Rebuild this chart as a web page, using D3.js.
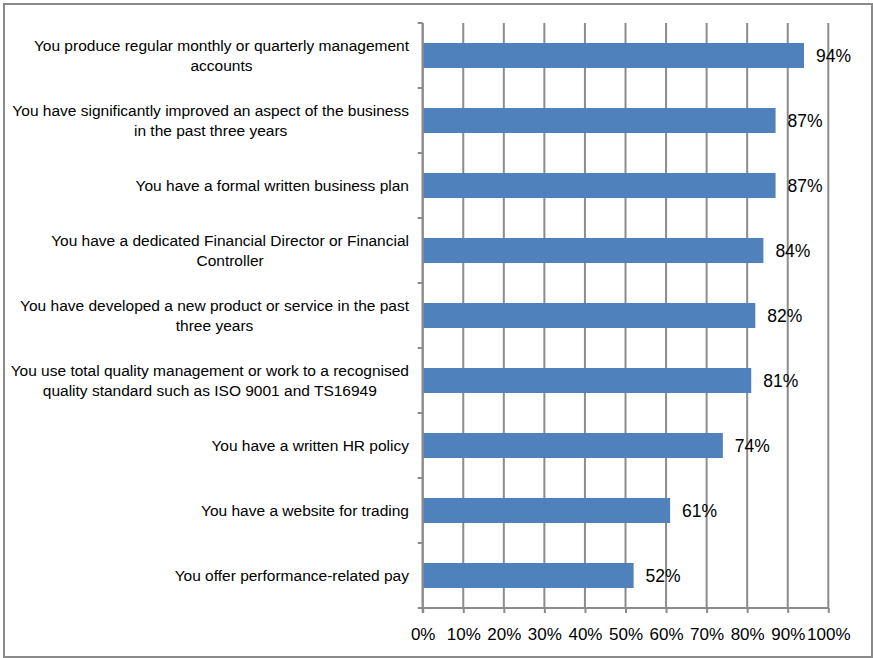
<!DOCTYPE html>
<html>
<head>
<meta charset="utf-8">
<script src="https://cdn.jsdelivr.net/npm/d3@7"></script>
<style>
  html, body { margin: 0; padding: 0; background: #fff; }
  svg { display: block; }
</style>
</head>
<body>
<svg id="chart" width="873" height="658"></svg>
<script>
// Survey statements (each entry is the list of wrapped lines) and the share agreeing
const categories = [
  ["You produce regular monthly or quarterly management", "accounts"],
  ["You have significantly improved an aspect of the business", "in the past three years"],
  ["You have a formal written business plan"],
  ["You have a dedicated Financial Director or Financial", "Controller"],
  ["You have developed a new product or service in the past", "three years"],
  ["You use total quality management or work to a recognised", "quality standard such as ISO 9001 and TS16949"],
  ["You have a written HR policy"],
  ["You have a website for trading"],
  ["You offer performance-related pay"]
];
const values = [94, 87, 87, 84, 82, 81, 74, 61, 52];
const tickValues = [0, 10, 20, 30, 40, 50, 60, 70, 80, 90, 100];

const svg = d3.select("#chart");
const W = 873, H = 658;
const margin = { left: 422.7, right: W - 828.3, top: 23, bottom: H - 608 };

const labelFont = "'Liberation Sans Narrow', 'Arial Narrow', 'Liberation Sans', sans-serif";
const numFont = "'Liberation Sans', Arial, sans-serif";
const gridColor = "#8c8c8c";

// outer frame
svg.append("rect")
  .attr("x", 4).attr("y", 4).attr("width", 868).attr("height", 653)
  .attr("fill", "#fff").attr("stroke", "#8a8a8a").attr("stroke-width", 2);

const x = d3.scaleLinear().domain([0, 100]).range([margin.left, W - margin.right]);
const y = d3.scaleBand().domain(d3.range(categories.length))
  .range([margin.top, H - margin.bottom]).paddingInner(0.615).paddingOuter(0.3075);
const yOuter = d3.scaleBand().domain(d3.range(categories.length))
  .range([margin.top, H - margin.bottom]);

// vertical gridlines
svg.append("g").selectAll("line").data(tickValues).join("line")
  .attr("x1", d => x(d)).attr("x2", d => x(d))
  .attr("y1", margin.top).attr("y2", H - margin.bottom)
  .attr("stroke", gridColor).attr("stroke-width", 2);

// bars
svg.append("g").selectAll("rect").data(values).join("rect")
  .attr("x", x(0))
  .attr("y", (d, i) => y(i))
  .attr("width", d => x(d) - x(0))
  .attr("height", y.bandwidth())
  .attr("fill", "#4f81bd");

// x axis
const xAxis = d3.axisBottom(x).tickValues(tickValues).tickFormat(d => d + "%").tickSize(5).tickPadding(15);
const gx = svg.append("g").attr("transform", `translate(0,${H - margin.bottom})`).call(xAxis);
gx.select(".domain").attr("stroke", gridColor).attr("stroke-width", 2).attr("d", `M${x(0)},0H${x(100)}`);
gx.selectAll(".tick line").attr("stroke", gridColor).attr("stroke-width", 2);
gx.selectAll(".tick text").attr("font-family", numFont).attr("font-size", 17).attr("fill", "#000");

// y axis: category boundary ticks on the left of the axis line
const boundaries = d3.range(categories.length + 1).map(i => margin.top + i * yOuter.step());
const gy = svg.append("g");
gy.append("line")
  .attr("x1", x(0)).attr("x2", x(0))
  .attr("y1", margin.top).attr("y2", H - margin.bottom + 5)
  .attr("stroke", gridColor).attr("stroke-width", 2);
gy.selectAll("line.tk").data(boundaries).join("line").attr("class", "tk")
  .attr("x1", x(0) - 5).attr("x2", x(0))
  .attr("y1", d => d).attr("y2", d => d)
  .attr("stroke", gridColor).attr("stroke-width", 2);

// category labels: block right-aligned near the axis, lines centered within the block
const lineH = 20;
const labelRight = 409;
const lg = svg.append("g");
categories.forEach((lines, i) => {
  const cy = yOuter(i) + yOuter.bandwidth() / 2;
  const g = lg.append("g");
  const texts = lines.map((s, j) => g.append("text")
    .attr("font-family", labelFont).attr("font-size", 15.5).attr("fill", "#000")
    .attr("text-anchor", "middle")
    .attr("y", cy + (j - (lines.length - 1) / 2) * lineH)
    .attr("dy", "0.35em")
    .text(s));
  const widths = texts.map(t => t.node().getComputedTextLength());
  const maxW = d3.max(widths);
  texts.forEach(t => t.attr("x", labelRight - maxW / 2));
});

// value labels
svg.append("g").selectAll("text").data(values).join("text")
  .attr("x", d => x(d) + 12)
  .attr("y", (d, i) => y(i) + y.bandwidth() / 2)
  .attr("dy", "0.35em")
  .attr("font-family", numFont).attr("font-size", 17.5).attr("fill", "#000")
  .text(d => d + "%");
</script>
</body>
</html>
